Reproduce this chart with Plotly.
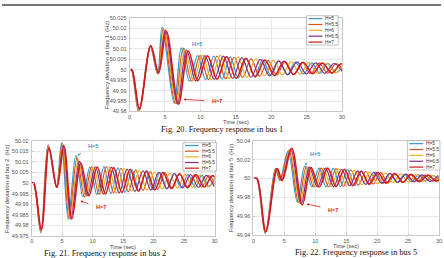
import plotly.graph_objects as go

W, H = 444, 258

LABELS = ["H=5", "H=5.5", "H=6", "H=6.5", "H=7"]
COLORS = ["#3596d2", "#d9541a", "#edb120", "#7e2f8e", "#d7191c"]
WIDTHS = [1.2, 1.2, 1.2, 1.2, 1.6]

XTICKS = [0, 5, 10, 15, 20, 25, 30]
XTICKTEXT = ["0", "5", "10", "15", "20", "25", "30"]

# ---------------- Bus 1 ----------------
B1_T_H5 = [0, 0.25, 1.3, 2.9, 3.95, 4.6, 6.3, 7.3, 8.45, 9.6, 10.75, 11.9, 13.05, 14.2, 15.35, 16.5, 17.65, 18.8, 19.95, 21.1, 22.25, 23.4, 24.55, 25.7, 26.85, 28.0, 29.15, 30.3]
B1_V_H5 = [50.0, 50.0, 49.9795, 50.0112, 49.998, 50.0205, 49.984, 50.0105, 49.9945, 50.0068, 49.9952, 50.0066, 49.9955, 50.0062, 49.996, 50.0055, 49.9966, 50.0048, 49.9972, 50.0042, 49.9976, 50.0037, 49.998, 50.0033, 49.9983, 50.003, 49.9986, 50.0027]
B1_T_H55 = [0, 0.27, 1.33, 2.93, 4.0, 4.75, 6.45, 7.55, 8.75, 9.95, 11.15, 12.35, 13.55, 14.75, 15.95, 17.15, 18.35, 19.55, 20.75, 21.95, 23.15, 24.35, 25.55, 26.75, 27.95, 29.15, 30.35]
B1_V_H55 = [50.0, 50.0, 49.98, 50.0113, 49.998, 50.0198, 49.9838, 50.0102, 49.9946, 50.0068, 49.9953, 50.0066, 49.9957, 50.006, 49.9963, 50.0052, 49.9969, 50.0045, 49.9974, 50.004, 49.9977, 50.0036, 49.9981, 50.0032, 49.9984, 50.0029, 49.9986]
B1_T_H6 = [0, 0.29, 1.35, 2.95, 4.03, 4.9, 6.6, 7.8, 9.05, 10.3, 11.55, 12.8, 14.05, 15.3, 16.55, 17.8, 19.05, 20.3, 21.55, 22.8, 24.05, 25.3, 26.55, 27.8, 29.05, 30.3]
B1_V_H6 = [50.0, 50.0, 49.9805, 50.0114, 49.9982, 50.0194, 49.9837, 50.0098, 49.9947, 50.007, 49.9953, 50.007, 49.9957, 50.0062, 49.9963, 50.0052, 49.997, 50.0045, 49.9975, 50.0039, 49.9979, 50.0034, 49.9982, 50.0031, 49.9985, 50.0028]
B1_T_H65 = [0, 0.31, 1.38, 2.98, 4.06, 5.05, 6.75, 8.05, 9.35, 10.65, 11.95, 13.25, 14.55, 15.85, 17.15, 18.45, 19.75, 21.05, 22.35, 23.65, 24.95, 26.25, 27.55, 28.85, 30.15]
B1_V_H65 = [50.0, 50.0, 49.981, 50.0115, 49.9984, 50.019, 49.9836, 50.0094, 49.9947, 50.0068, 49.9954, 50.0065, 49.9958, 50.0058, 49.9964, 50.005, 49.9971, 50.0043, 49.9976, 50.0038, 49.998, 50.0033, 49.9983, 50.003, 49.9985]
B1_T_H7 = [0, 0.33, 1.4, 3.0, 4.1, 5.2, 6.9, 8.3, 9.65, 11.0, 12.35, 13.7, 15.05, 16.4, 17.75, 19.1, 20.45, 21.8, 23.15, 24.5, 25.85, 27.2, 28.55, 29.9, 31.25]
B1_V_H7 = [50.0, 50.0, 49.9815, 50.0116, 49.9986, 50.0185, 49.9835, 50.009, 49.9948, 50.0067, 49.9954, 50.0063, 49.9959, 50.0055, 49.9966, 50.0047, 49.9972, 50.0041, 49.9977, 50.0036, 49.9981, 50.0032, 49.9984, 50.0029, 49.9986]
B1_YTICKS = [49.98, 49.985, 49.99, 49.995, 50.0, 50.005, 50.01, 50.015, 50.02, 50.025]
B1_YTEXT = ["49.98", "49.985", "49.99", "49.995", "50", "50.005", "50.01", "50.015", "50.02", "50.025"]

# ---------------- Bus 2 ----------------
B2_T_H5 = [0, 0.3, 1.5, 2.7, 4.05, 4.9, 6.0, 7.25, 8.4, 9.55, 10.7, 11.85, 13.0, 14.15, 15.3, 16.45, 17.6, 18.75, 19.9, 21.05, 22.2, 23.35, 24.5, 25.65, 26.8, 27.95, 29.1, 30.25]
B2_V_H5 = [50.0, 50.0, 49.9765, 50.018, 49.998, 50.019, 49.983, 50.013, 49.9935, 50.0075, 49.9945, 50.0078, 49.995, 50.0072, 49.9956, 50.0064, 49.9962, 50.0056, 49.9968, 50.005, 49.9973, 50.0045, 49.9977, 50.004, 49.998, 50.0036, 49.9983, 50.0033]
B2_T_H55 = [0, 0.31, 1.52, 2.73, 4.08, 5.0, 6.15, 7.45, 8.65, 9.85, 11.05, 12.25, 13.45, 14.65, 15.85, 17.05, 18.25, 19.45, 20.65, 21.85, 23.05, 24.25, 25.45, 26.65, 27.85, 29.05, 30.25]
B2_V_H55 = [50.0, 50.0, 49.977, 50.0176, 49.998, 50.0187, 49.983, 50.012, 49.9935, 50.0076, 49.9946, 50.0078, 49.9953, 50.007, 49.9959, 50.0062, 49.9965, 50.0054, 49.997, 50.0049, 49.9975, 50.0044, 49.9978, 50.0039, 49.9981, 50.0035, 49.9983]
B2_T_H6 = [0, 0.32, 1.55, 2.77, 4.1, 5.1, 6.3, 7.65, 8.9, 10.15, 11.4, 12.65, 13.9, 15.15, 16.4, 17.65, 18.9, 20.15, 21.4, 22.65, 23.9, 25.15, 26.4, 27.65, 28.9, 30.15]
B2_V_H6 = [50.0, 50.0, 49.9773, 50.0172, 49.998, 50.0183, 49.983, 50.011, 49.9935, 50.0077, 49.9947, 50.0077, 49.9952, 50.0068, 49.9962, 50.006, 49.9967, 50.0052, 49.9972, 50.0046, 49.9976, 50.0041, 49.998, 50.0037, 49.9982, 50.0034]
B2_T_H65 = [0, 0.33, 1.57, 2.81, 4.12, 5.2, 6.45, 7.85, 9.15, 10.45, 11.75, 13.05, 14.35, 15.65, 16.95, 18.25, 19.55, 20.85, 22.15, 23.45, 24.75, 26.05, 27.35, 28.65, 29.95]
B2_V_H65 = [50.0, 50.0, 49.9777, 50.0168, 49.998, 50.0179, 49.983, 50.0102, 49.994, 50.0077, 49.9948, 50.0075, 49.9954, 50.0066, 49.9961, 50.0058, 49.9967, 50.0051, 49.9973, 50.0045, 49.9977, 50.004, 49.998, 50.0036, 49.9983]
B2_T_H7 = [0, 0.34, 1.6, 2.85, 4.15, 5.3, 6.6, 8.05, 9.4, 10.75, 12.1, 13.45, 14.8, 16.15, 17.5, 18.85, 20.2, 21.55, 22.9, 24.25, 25.6, 26.95, 28.3, 29.65, 31.0]
B2_V_H7 = [50.0, 50.0, 49.978, 50.0165, 49.998, 50.0175, 49.983, 50.0095, 49.994, 50.0076, 49.9949, 50.0073, 49.9955, 50.0065, 49.9962, 50.0057, 49.9968, 50.005, 49.9974, 50.0044, 49.9978, 50.004, 49.9981, 50.0035, 49.9983]
B2_YTICKS = [49.975, 49.98, 49.985, 49.99, 49.995, 50.0, 50.005, 50.01, 50.015, 50.02]
B2_YTEXT = ["49.975", "49.98", "49.985", "49.99", "49.995", "50", "50.005", "50.01", "50.015", "50.02"]

# ---------------- Bus 5 ----------------
B5_T_H5 = [0, 0.5, 1.9, 3.55, 4.25, 5.6, 7.1, 8.3, 9.45, 10.6, 11.75, 12.9, 14.05, 15.2, 16.35, 17.5, 18.65, 19.8, 20.95, 22.1, 23.25, 24.4, 25.55, 26.7, 27.85, 29.0, 30.15]
B5_V_H5 = [50.0, 50.0, 49.942, 50.0105, 49.998, 50.029, 49.975, 50.013, 49.991, 50.011, 49.991, 50.0108, 49.9915, 50.0095, 49.9925, 50.0078, 49.9938, 50.0065, 49.995, 50.0054, 49.9958, 50.0045, 49.9966, 50.0038, 49.9972, 50.0032, 49.9977]
B5_T_H55 = [0, 0.52, 1.93, 3.62, 4.35, 5.75, 7.3, 8.55, 9.75, 10.95, 12.15, 13.35, 14.55, 15.75, 16.95, 18.15, 19.35, 20.55, 21.75, 22.95, 24.15, 25.35, 26.55, 27.75, 28.95, 30.15]
B5_V_H55 = [50.0, 50.0, 49.9425, 50.0105, 49.998, 50.0298, 49.9745, 50.0127, 49.991, 50.011, 49.991, 50.0105, 49.9918, 50.009, 49.993, 50.0074, 49.9942, 50.0062, 49.9953, 50.0051, 49.996, 50.0043, 49.9967, 50.0036, 49.9973, 50.0031]
B5_T_H6 = [0, 0.54, 1.96, 3.7, 4.45, 5.9, 7.5, 8.8, 10.05, 11.3, 12.55, 13.8, 15.05, 16.3, 17.55, 18.8, 20.05, 21.3, 22.55, 23.8, 25.05, 26.3, 27.55, 28.8, 30.05]
B5_V_H6 = [50.0, 50.0, 49.943, 50.0105, 49.998, 50.0305, 49.974, 50.0123, 49.991, 50.011, 49.9912, 50.0102, 49.992, 50.0085, 49.9933, 50.007, 49.9945, 50.0059, 49.9955, 50.0049, 49.9962, 50.0041, 49.9968, 50.0034, 49.9974]
B5_T_H65 = [0, 0.56, 1.98, 3.78, 4.55, 6.05, 7.7, 9.05, 10.35, 11.65, 12.95, 14.25, 15.55, 16.85, 18.15, 19.45, 20.75, 22.05, 23.35, 24.65, 25.95, 27.25, 28.55, 29.85]
B5_V_H65 = [50.0, 50.0, 49.9435, 50.0105, 49.998, 50.0312, 49.973, 50.012, 49.991, 50.011, 49.9913, 50.0098, 49.9923, 50.008, 49.9937, 50.0066, 49.9949, 50.0055, 49.9958, 50.0046, 49.9965, 50.0039, 49.997, 50.0033]
B5_T_H7 = [0, 0.58, 2.0, 3.85, 4.65, 6.2, 7.9, 9.3, 10.65, 12.0, 13.35, 14.7, 16.05, 17.4, 18.75, 20.1, 21.45, 22.8, 24.15, 25.5, 26.85, 28.2, 29.55, 30.9]
B5_V_H7 = [50.0, 50.0, 49.944, 50.0105, 49.998, 50.032, 49.972, 50.0115, 49.991, 50.011, 49.9915, 50.0095, 49.9925, 50.0077, 49.994, 50.0063, 49.9951, 50.0053, 49.996, 50.0044, 49.9967, 50.0037, 49.9972, 50.0032]
B5_YTICKS = [49.94, 49.96, 49.98, 50.0, 50.02, 50.04]
B5_YTEXT = ["49.94", "49.96", "49.98", "50", "50.02", "50.04"]


def px(x):
    return x / W


def py(y):
    return 1 - y / H


panels = [
    dict(n="", T=[B1_T_H5, B1_T_H55, B1_T_H6, B1_T_H65, B1_T_H7],
         V=[B1_V_H5, B1_V_H55, B1_V_H6, B1_V_H65, B1_V_H7],
         xd=[129, 344], yd=[15, 111], xr=[0, 30], yr=[49.98, 50.025],
         yt=B1_YTICKS, ytt=B1_YTEXT, ytitle="Frequency deviation at bus 1  (Hz)",
         ytx=106, xtitle_y=121.8, leg=[308, 13, 340, 43],
         caption="Fig. 20. Frequency response in bus 1", cap=[222, 129.5],
         h5=dict(t=(9.5, 50.0125), a=(7.4, 50.0098)), h7=dict(t=(12.3, 49.9848), a=(7.6, 49.9858))),
    dict(n="2", T=[B2_T_H5, B2_T_H55, B2_T_H6, B2_T_H65, B2_T_H7],
         V=[B2_V_H5, B2_V_H55, B2_V_H6, B2_V_H65, B2_V_H7],
         xd=[30, 215], yd=[141, 238.5], xr=[0, 30], yr=[49.975, 50.02],
         yt=B2_YTICKS, ytt=B2_YTEXT, ytitle="Frequency deviation at bus 2  (Hz)",
         ytx=5, xtitle_y=250.0, leg=[183, 143, 217, 172],
         caption="Fig. 21. Frequency response in bus 2", cap=[104, 256.5],
         h5=dict(t=(10.0, 50.0175), a=(7.5, 50.013)), h7=dict(t=(11.3, 49.9885), a=(8.0, 49.9915))),
    dict(n="3", T=[B5_T_H5, B5_T_H55, B5_T_H6, B5_T_H65, B5_T_H7],
         V=[B5_V_H5, B5_V_H55, B5_V_H6, B5_V_H65, B5_V_H7],
         xd=[254.3, 442], yd=[141, 237.7], xr=[0, 30], yr=[49.94, 50.04],
         yt=B5_YTICKS, ytt=B5_YTEXT, ytitle="Frequency deviation at bus 5  (Hz)",
         ytx=232, xtitle_y=248.8, leg=[410, 141, 443, 171],
         caption="Fig. 22. Frequency response in bus 5", cap=[358, 255.6],
         h5=dict(t=(10.0, 50.026), a=(8.3, 50.014)), h7=dict(t=(12.8, 49.967), a=(8.6, 49.973))),
]

fig = go.Figure()
shapes = []
annotations = []
layout = {}

AXCOL = "#c8c8c8"
GRIDCOL = "#e9e9e9"
TICKFONT = dict(family="Liberation Sans, Arial, sans-serif", size=5.5, color="#555555")


def note(x, y, text, font, **kw):
    d = dict(x=px(x), y=py(y), xref="paper", yref="paper", text=text, showarrow=False,
             xanchor="center", yanchor="middle", font=font)
    d.update(kw)
    return d


for p in panels:
    n = p["n"]
    xa = "x" + n
    ya = "y" + n
    for i in range(5):
        fig.add_trace(go.Scatter(
            x=p["T"][i], y=p["V"][i], xaxis=xa, yaxis=ya, mode="lines",
            line=dict(color=COLORS[i], width=WIDTHS[i], shape="spline", smoothing=1.0),
            showlegend=False, hoverinfo="skip"))
    layout["xaxis" + n] = dict(
        domain=[px(p["xd"][0]), px(p["xd"][1])], anchor=ya, range=p["xr"],
        tickvals=XTICKS, ticktext=XTICKTEXT, showgrid=True, gridcolor=GRIDCOL, gridwidth=0.6,
        showline=True, mirror=True, linecolor=AXCOL, linewidth=0.8, zeroline=False,
        ticks="inside", ticklen=2, tickcolor=AXCOL, tickfont=TICKFONT, ticklabelstandoff=0)
    layout["yaxis" + n] = dict(
        domain=[py(p["yd"][1]), py(p["yd"][0])], anchor=xa, range=p["yr"],
        tickvals=p["yt"], ticktext=p["ytt"], showgrid=True, gridcolor=GRIDCOL, gridwidth=0.6,
        showline=True, mirror=True, linecolor=AXCOL, linewidth=0.8, zeroline=False,
        ticks="inside", ticklen=2, tickcolor=AXCOL, tickfont=TICKFONT, ticklabelstandoff=1)
    xc = (p["xd"][0] + p["xd"][1]) / 2
    yc = (p["yd"][0] + p["yd"][1]) / 2
    annotations.append(note(xc, p["xtitle_y"], "Time (sec)",
                            dict(family="Liberation Sans, Arial", size=5.5, color="#444")))
    annotations.append(note(p["ytx"], yc, p["ytitle"],
                            dict(family="Liberation Sans, Arial", size=5.8, color="#444"), textangle=-90))
    annotations.append(note(p["cap"][0], p["cap"][1], p["caption"],
                            dict(family="Liberation Serif, Times New Roman, serif", size=8.3, color="#111")))
    for key, col in (("h5", COLORS[0]), ("h7", COLORS[4])):
        d = p[key]
        annotations.append(dict(x=d["a"][0], y=d["a"][1], xref=xa, yref=ya,
                                ax=d["t"][0], ay=d["t"][1], axref=xa, ayref=ya,
                                text="<b>%s</b>" % ("H=5" if key == "h5" else "H=7"),
                                showarrow=True, arrowhead=2, arrowsize=0.6, arrowwidth=0.8,
                                arrowcolor=col, standoff=0, startstandoff=6,
                                xanchor="center", yanchor="middle",
                                font=dict(family="Liberation Sans, Arial", size=5.5, color=col)))
    lx0, ly0, lx1, ly1 = p["leg"]
    shapes.append(dict(type="rect", xref="paper", yref="paper", x0=px(lx0), x1=px(lx1),
                       y0=py(ly1), y1=py(ly0), line=dict(color="#999", width=0.6),
                       fillcolor="white", layer="above"))
    rowh = (ly1 - ly0) / 5.0
    for i in range(5):
        yy = ly0 + rowh * (i + 0.5)
        shapes.append(dict(type="line", xref="paper", yref="paper",
                           x0=px(lx0 + 2), x1=px(lx0 + 16), y0=py(yy), y1=py(yy),
                           line=dict(color=COLORS[i], width=1.2), layer="above"))
        annotations.append(note(lx0 + 17, yy, LABELS[i],
                                dict(family="Liberation Sans, Arial", size=4.8, color="#333"),
                                xanchor="left"))

shapes.append(dict(type="line", xref="paper", yref="paper", x0=0, x1=1, y0=py(2), y1=py(2),
                   line=dict(color="#777", width=2)))

fig.update_layout(
    width=W, height=H, margin=dict(l=0, r=0, t=0, b=0),
    paper_bgcolor="white", plot_bgcolor="white", showlegend=False,
    shapes=shapes, annotations=annotations, **layout)

fig.write_html("out.html")
